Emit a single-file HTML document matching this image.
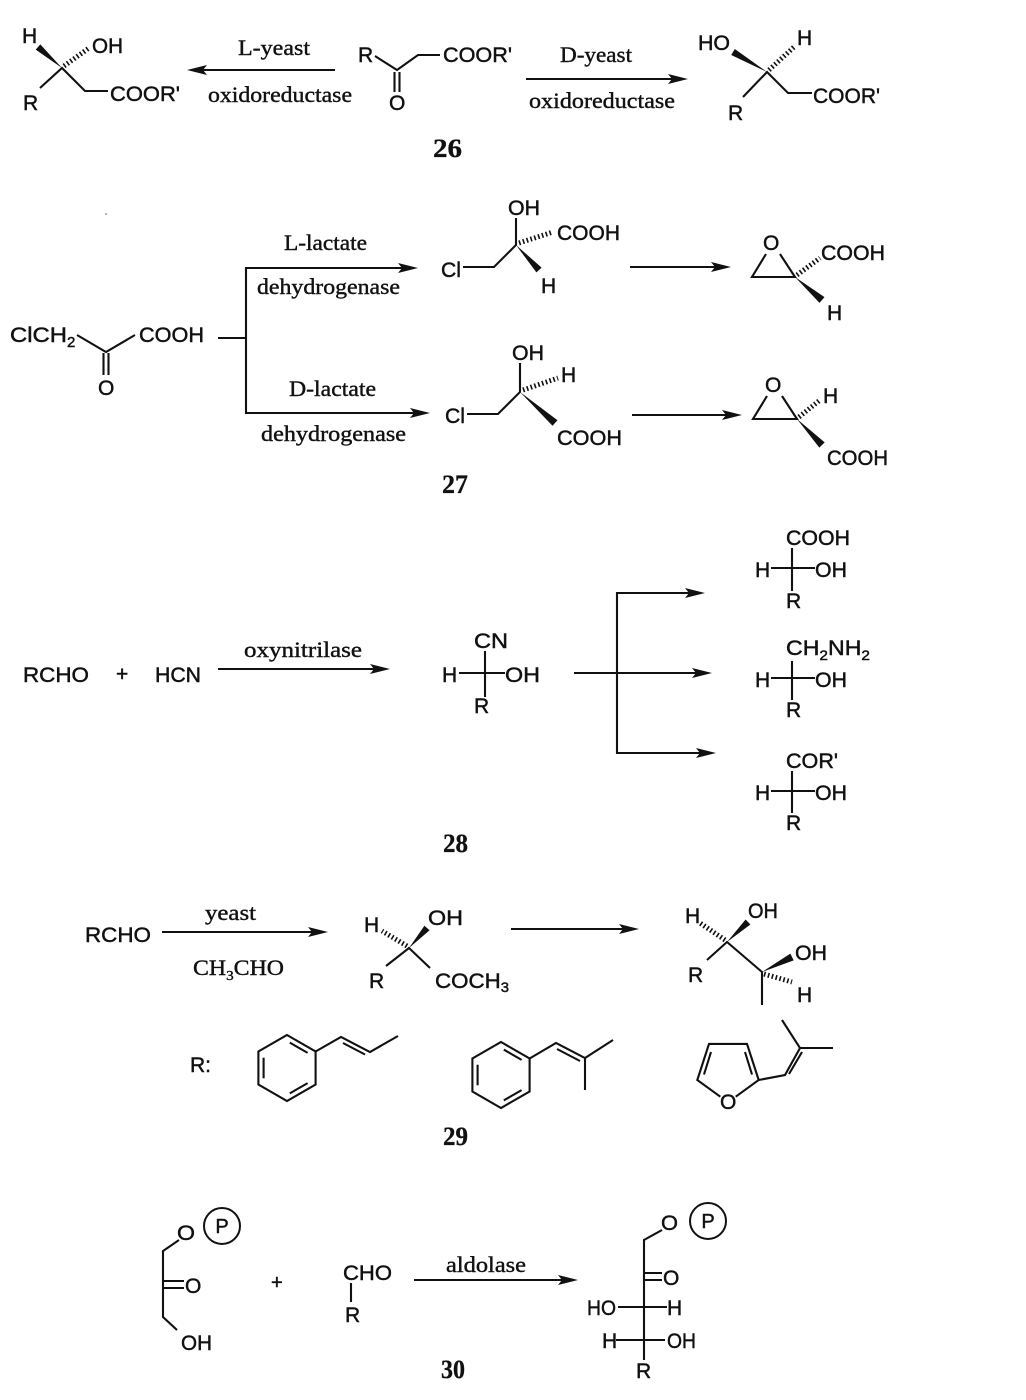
<!DOCTYPE html>
<html>
<head>
<meta charset="utf-8">
<style>
html,body{margin:0;padding:0;background:#fff;}
svg{display:block;}
.s{font-family:"Liberation Sans",Arial,sans-serif;font-size:21px;fill:#111;stroke:#111;stroke-width:0.45;}
.t{font-family:"Liberation Serif","Times New Roman",serif;font-size:22px;fill:#111;stroke:#111;stroke-width:0.4;}
.n{font-family:"Liberation Serif","Times New Roman",serif;font-size:26px;font-weight:bold;fill:#111;stroke:#111;stroke-width:0.3;}
line,polyline{stroke:#111;stroke-width:2.1;fill:none;}
polygon{fill:#111;stroke:none;}
.h{stroke-width:5;stroke-dasharray:1.6 2.4;}
circle.p{fill:none;stroke:#111;stroke-width:2;}
</style>
</head>
<body>
<svg width="1026" height="1400" viewBox="0 0 1026 1400" xmlns="http://www.w3.org/2000/svg">
<rect width="1026" height="1400" fill="#fff"/>

<!-- ===== 26 ===== -->
<text class="s" x="22" y="43">H</text>
<polygon points="62,68 40.3,44.4 35.7,49.6"/>
<line class="h" x1="64" y1="66" x2="89" y2="48"/>
<text class="s" x="92" y="53" textLength="31" lengthAdjust="spacingAndGlyphs">OH</text>
<polyline points="40,88 62,68 85,91 108,91"/>
<text class="s" x="23" y="110">R</text>
<text class="s" x="110" y="101" textLength="70" lengthAdjust="spacingAndGlyphs">COOR'</text>

<line x1="335" y1="70" x2="200" y2="70"/>
<polygon points="187,70 207,65 203,70 207,75"/>
<text class="t" x="238" y="55" textLength="72" lengthAdjust="spacingAndGlyphs">L-yeast</text>
<text class="t" x="208" y="102" textLength="144" lengthAdjust="spacingAndGlyphs">oxidoreductase</text>

<text class="s" x="358" y="62">R</text>
<polyline points="375,56 397,70 418,55 440,55"/>
<text class="s" x="443" y="62" textLength="69" lengthAdjust="spacingAndGlyphs">COOR'</text>
<line x1="394.5" y1="72" x2="394.5" y2="92"/>
<line x1="399.5" y1="72" x2="399.5" y2="92"/>
<text class="s" x="389" y="110">O</text>
<text class="n" x="433" y="157" textLength="29" lengthAdjust="spacingAndGlyphs">26</text>

<line x1="526" y1="79" x2="675" y2="79"/>
<polygon points="688,79 668,74 672,79 668,84"/>
<text class="t" x="560" y="62" textLength="72" lengthAdjust="spacingAndGlyphs">D-yeast</text>
<text class="t" x="529" y="108" textLength="146" lengthAdjust="spacingAndGlyphs">oxidoreductase</text>

<text class="s" x="698" y="50" textLength="32" lengthAdjust="spacingAndGlyphs">HO</text>
<text class="s" x="797" y="45">H</text>
<polygon points="767,72 734.8,49 731.2,55"/>
<line class="h" x1="769" y1="70" x2="794" y2="47"/>
<polyline points="743,97 767,72 788,93 812,93"/>
<text class="s" x="728" y="120">R</text>
<text class="s" x="813" y="103" textLength="67" lengthAdjust="spacingAndGlyphs">COOR'</text>

<!-- ===== 27 ===== -->
<circle cx="106" cy="214" r="1" fill="#999"/>
<text class="s" x="10" y="342" textLength="57" lengthAdjust="spacingAndGlyphs">ClCH</text>
<text class="s" x="67" y="347" style="font-size:15px">2</text>
<polyline points="77,335 106,352 135,335"/>
<line x1="103.5" y1="353" x2="103.5" y2="375"/>
<line x1="108.5" y1="353" x2="108.5" y2="375"/>
<text class="s" x="98" y="395">O</text>
<text class="s" x="139" y="342" textLength="65" lengthAdjust="spacingAndGlyphs">COOH</text>

<line x1="218" y1="338" x2="246" y2="338"/>
<line x1="246" y1="267" x2="246" y2="414"/>
<line x1="246" y1="268" x2="404" y2="268"/>
<polygon points="418,268 398,263 402,268 398,273"/>
<line x1="246" y1="413" x2="416" y2="413"/>
<polygon points="430,413 410,408 414,413 410,418"/>
<text class="t" x="284" y="250" textLength="83" lengthAdjust="spacingAndGlyphs">L-lactate</text>
<text class="t" x="257" y="294" textLength="143" lengthAdjust="spacingAndGlyphs">dehydrogenase</text>
<text class="t" x="289" y="396" textLength="87" lengthAdjust="spacingAndGlyphs">D-lactate</text>
<text class="t" x="261" y="441" textLength="145" lengthAdjust="spacingAndGlyphs">dehydrogenase</text>

<!-- top product -->
<text class="s" x="441" y="277" textLength="20" lengthAdjust="spacingAndGlyphs">Cl</text>
<polyline points="463,267 494,267 516,245 516,218"/>
<text class="s" x="508" y="215" textLength="32" lengthAdjust="spacingAndGlyphs">OH</text>
<line class="h" x1="519" y1="243" x2="553" y2="232"/>
<text class="s" x="557" y="240" textLength="63" lengthAdjust="spacingAndGlyphs">COOH</text>
<polygon points="516,245 541.6,267.6 536.4,272.4"/>
<text class="s" x="541" y="293">H</text>

<!-- bottom product -->
<text class="s" x="445" y="423" textLength="20" lengthAdjust="spacingAndGlyphs">Cl</text>
<polyline points="467,414 498,414 520,392 520,363"/>
<text class="s" x="512" y="360" textLength="32" lengthAdjust="spacingAndGlyphs">OH</text>
<line class="h" x1="523" y1="390" x2="558" y2="378"/>
<text class="s" x="561" y="382">H</text>
<polygon points="520,392 557.5,420.2 552.5,425.8"/>
<text class="s" x="557" y="445" textLength="65" lengthAdjust="spacingAndGlyphs">COOH</text>

<!-- epoxides -->
<line x1="630" y1="267" x2="717" y2="267"/>
<polygon points="731,267 711,262 715,267 711,272"/>
<text class="s" x="763" y="250">O</text>
<polyline points="766,254 752,277 795,277 780,254"/>
<line class="h" x1="797" y1="275" x2="820" y2="258"/>
<text class="s" x="821" y="260" textLength="64" lengthAdjust="spacingAndGlyphs">COOH</text>
<polygon points="795,277 824.5,297.1 819.5,302.9"/>
<text class="s" x="827" y="320">H</text>

<line x1="632" y1="415" x2="728" y2="415"/>
<polygon points="742,415 722,410 726,415 722,420"/>
<text class="s" x="765" y="392">O</text>
<polyline points="767,396 753,419 797,419 782,396"/>
<line class="h" x1="799" y1="417" x2="820" y2="400"/>
<text class="s" x="823" y="403">H</text>
<polygon points="797,419 824.7,442.4 819.3,447.6"/>
<text class="s" x="827" y="465" textLength="61" lengthAdjust="spacingAndGlyphs">COOH</text>

<text class="n" x="442" y="493" textLength="26" lengthAdjust="spacingAndGlyphs">27</text>

<!-- ===== 28 ===== -->
<text class="s" x="23" y="682" textLength="66" lengthAdjust="spacingAndGlyphs">RCHO</text>
<text class="s" x="116" y="681">+</text>
<text class="s" x="155" y="682" textLength="46" lengthAdjust="spacingAndGlyphs">HCN</text>
<line x1="218" y1="669" x2="376" y2="669"/>
<polygon points="390,669 370,664 374,669 370,674"/>
<text class="t" x="244" y="657" textLength="118" lengthAdjust="spacingAndGlyphs">oxynitrilase</text>

<text class="s" x="474" y="648" textLength="34" lengthAdjust="spacingAndGlyphs">CN</text>
<line x1="485" y1="651" x2="485" y2="697"/>
<text class="s" x="442" y="682">H</text>
<line x1="459" y1="673" x2="505" y2="673"/>
<text class="s" x="505" y="682" textLength="35" lengthAdjust="spacingAndGlyphs">OH</text>
<text class="s" x="474" y="713">R</text>

<line x1="574" y1="673" x2="698" y2="673"/>
<polygon points="712,673 692,668 696,673 692,678"/>
<line x1="617" y1="592" x2="617" y2="754"/>
<line x1="617" y1="593" x2="691" y2="593"/>
<polygon points="705,593 685,588 689,593 685,598"/>
<line x1="617" y1="753" x2="702" y2="753"/>
<polygon points="716,753 696,748 700,753 696,758"/>

<text class="s" x="786" y="545" textLength="64" lengthAdjust="spacingAndGlyphs">COOH</text>
<line x1="792" y1="548" x2="792" y2="591"/>
<text class="s" x="755" y="577">H</text>
<line x1="771" y1="568" x2="815" y2="568"/>
<text class="s" x="815" y="577" textLength="32" lengthAdjust="spacingAndGlyphs">OH</text>
<text class="s" x="786" y="608">R</text>

<text class="s" x="786" y="655" textLength="84" lengthAdjust="spacingAndGlyphs">CH<tspan dy="5" style="font-size:14px">2</tspan><tspan dy="-5">NH</tspan><tspan dy="5" style="font-size:14px">2</tspan></text>
<line x1="792" y1="661" x2="792" y2="700"/>
<text class="s" x="755" y="687">H</text>
<line x1="771" y1="678" x2="815" y2="678"/>
<text class="s" x="815" y="687" textLength="32" lengthAdjust="spacingAndGlyphs">OH</text>
<text class="s" x="786" y="717">R</text>

<text class="s" x="786" y="768" textLength="52" lengthAdjust="spacingAndGlyphs">COR'</text>
<line x1="792" y1="771" x2="792" y2="813"/>
<text class="s" x="755" y="800">H</text>
<line x1="771" y1="791" x2="815" y2="791"/>
<text class="s" x="815" y="800" textLength="32" lengthAdjust="spacingAndGlyphs">OH</text>
<text class="s" x="786" y="830">R</text>

<text class="n" x="443" y="852" textLength="25" lengthAdjust="spacingAndGlyphs">28</text>

<!-- ===== 29 ===== -->
<text class="s" x="85" y="942" textLength="66" lengthAdjust="spacingAndGlyphs">RCHO</text>
<line x1="162" y1="932" x2="314" y2="932"/>
<polygon points="328,932 308,927 312,932 308,937"/>
<text class="t" x="205" y="920" textLength="51" lengthAdjust="spacingAndGlyphs">yeast</text>
<text class="t" x="193" y="975" textLength="91" lengthAdjust="spacingAndGlyphs">CH<tspan dy="5" style="font-size:14px">3</tspan><tspan dy="-5">CHO</tspan></text>

<text class="s" x="364" y="932">H</text>
<line class="h" x1="407" y1="946" x2="382" y2="931"/>
<polygon points="409,948 429.6,930.3 424.4,925.7"/>
<text class="s" x="428" y="925" textLength="35" lengthAdjust="spacingAndGlyphs">OH</text>
<polyline points="386,966 409,948 430,968"/>
<text class="s" x="369" y="988">R</text>
<text class="s" x="435" y="988" textLength="74" lengthAdjust="spacingAndGlyphs">COCH<tspan dy="4" style="font-size:14px">3</tspan></text>

<line x1="511" y1="929" x2="625" y2="929"/>
<polygon points="639,929 619,924 623,929 619,934"/>

<text class="s" x="685" y="923">H</text>
<line class="h" x1="725" y1="940" x2="700" y2="923"/>
<polygon points="727,942 750.4,924.5 745.6,919.5"/>
<text class="s" x="748" y="918" textLength="30" lengthAdjust="spacingAndGlyphs">OH</text>
<polyline points="707,960 727,942 762,972 762,1005"/>
<text class="s" x="688" y="982">R</text>
<polygon points="762,972 793.7,960.4 790.3,953.6"/>
<text class="s" x="795" y="960" textLength="32" lengthAdjust="spacingAndGlyphs">OH</text>
<line class="h" x1="764" y1="974" x2="792" y2="982"/>
<text class="s" x="797" y="1002">H</text>

<text class="s" x="190" y="1072">R:</text>

<!-- benzene 1 -->
<polygon points="287,1035 315.6,1051.5 315.6,1084.5 287,1101 258.4,1084.5 258.4,1051.5" style="fill:none;stroke:#111;stroke-width:2.1"/>
<line x1="289.8" y1="1042.6" x2="307.6" y2="1052.9"/>
<line x1="307.6" y1="1083.1" x2="289.8" y2="1093.4"/>
<line x1="263.6" y1="1078.3" x2="263.6" y2="1057.7"/>
<polyline points="315.6,1051.5 341,1037 370,1052 398,1036"/>
<line x1="343" y1="1043" x2="365" y2="1054.5"/>

<!-- benzene 2 -->
<polygon points="501,1042 529.6,1058.5 529.6,1091.5 501,1108 472.4,1091.5 472.4,1058.5" style="fill:none;stroke:#111;stroke-width:2.1"/>
<line x1="503.8" y1="1049.6" x2="521.6" y2="1059.9"/>
<line x1="521.6" y1="1090.1" x2="503.8" y2="1100.4"/>
<line x1="477.6" y1="1085.3" x2="477.6" y2="1064.7"/>
<polyline points="529.6,1058.5 556,1043 585,1058 613,1040"/>
<line x1="585" y1="1058" x2="585" y2="1090"/>
<line x1="557" y1="1049" x2="580" y2="1061"/>

<!-- furan -->
<polyline points="720.3,1096.7 697.3,1080 709,1043.9 747,1043.9 758.7,1080 735.7,1096.7"/>
<line x1="711" y1="1052" x2="704" y2="1074.5"/>
<line x1="745" y1="1052" x2="752" y2="1074.5"/>
<text class="s" x="720" y="1109">O</text>
<polyline points="758.7,1080 785,1075 800,1048 782,1020"/>
<line x1="800" y1="1048" x2="833" y2="1048"/>
<line x1="789" y1="1074" x2="802" y2="1052"/>

<text class="n" x="443" y="1145" textLength="25" lengthAdjust="spacingAndGlyphs">29</text>

<!-- ===== 30 ===== -->
<text class="s" x="177" y="1240" textLength="18" lengthAdjust="spacingAndGlyphs">O</text>
<circle class="p" cx="222" cy="1226" r="18"/>
<text class="s" x="222" y="1233" text-anchor="middle" style="font-size:20px">P</text>
<polyline points="179,1240 163,1251 163,1317 177,1330"/>
<line x1="163" y1="1281" x2="184" y2="1281"/>
<line x1="163" y1="1288" x2="184" y2="1288"/>
<text class="s" x="185" y="1293">O</text>
<text class="s" x="181" y="1350" textLength="31" lengthAdjust="spacingAndGlyphs">OH</text>

<text class="s" x="271" y="1289" style="font-size:20px">+</text>

<text class="s" x="343" y="1280" textLength="49" lengthAdjust="spacingAndGlyphs">CHO</text>
<line x1="351" y1="1283" x2="351" y2="1302"/>
<text class="s" x="345" y="1322">R</text>

<line x1="414" y1="1280" x2="564" y2="1280"/>
<polygon points="578,1280 558,1275 562,1280 558,1285"/>
<text class="t" x="446" y="1272" textLength="80" lengthAdjust="spacingAndGlyphs">aldolase</text>

<text class="s" x="661" y="1230" textLength="17" lengthAdjust="spacingAndGlyphs">O</text>
<circle class="p" cx="708" cy="1221" r="18"/>
<text class="s" x="708" y="1228" text-anchor="middle" style="font-size:20px">P</text>
<polyline points="662,1230 644,1240 644,1360"/>
<line x1="644" y1="1273" x2="662" y2="1273"/>
<line x1="644" y1="1280" x2="662" y2="1280"/>
<text class="s" x="663" y="1285">O</text>
<text class="s" x="587" y="1315" textLength="29" lengthAdjust="spacingAndGlyphs">HO</text>
<line x1="618" y1="1307" x2="667" y2="1307"/>
<text class="s" x="667" y="1315">H</text>
<text class="s" x="602" y="1348">H</text>
<line x1="616" y1="1340" x2="665" y2="1340"/>
<text class="s" x="667" y="1348" textLength="29" lengthAdjust="spacingAndGlyphs">OH</text>
<text class="s" x="636" y="1378">R</text>

<text class="n" x="441" y="1378" textLength="24" lengthAdjust="spacingAndGlyphs">30</text>
</svg>
</body>
</html>
